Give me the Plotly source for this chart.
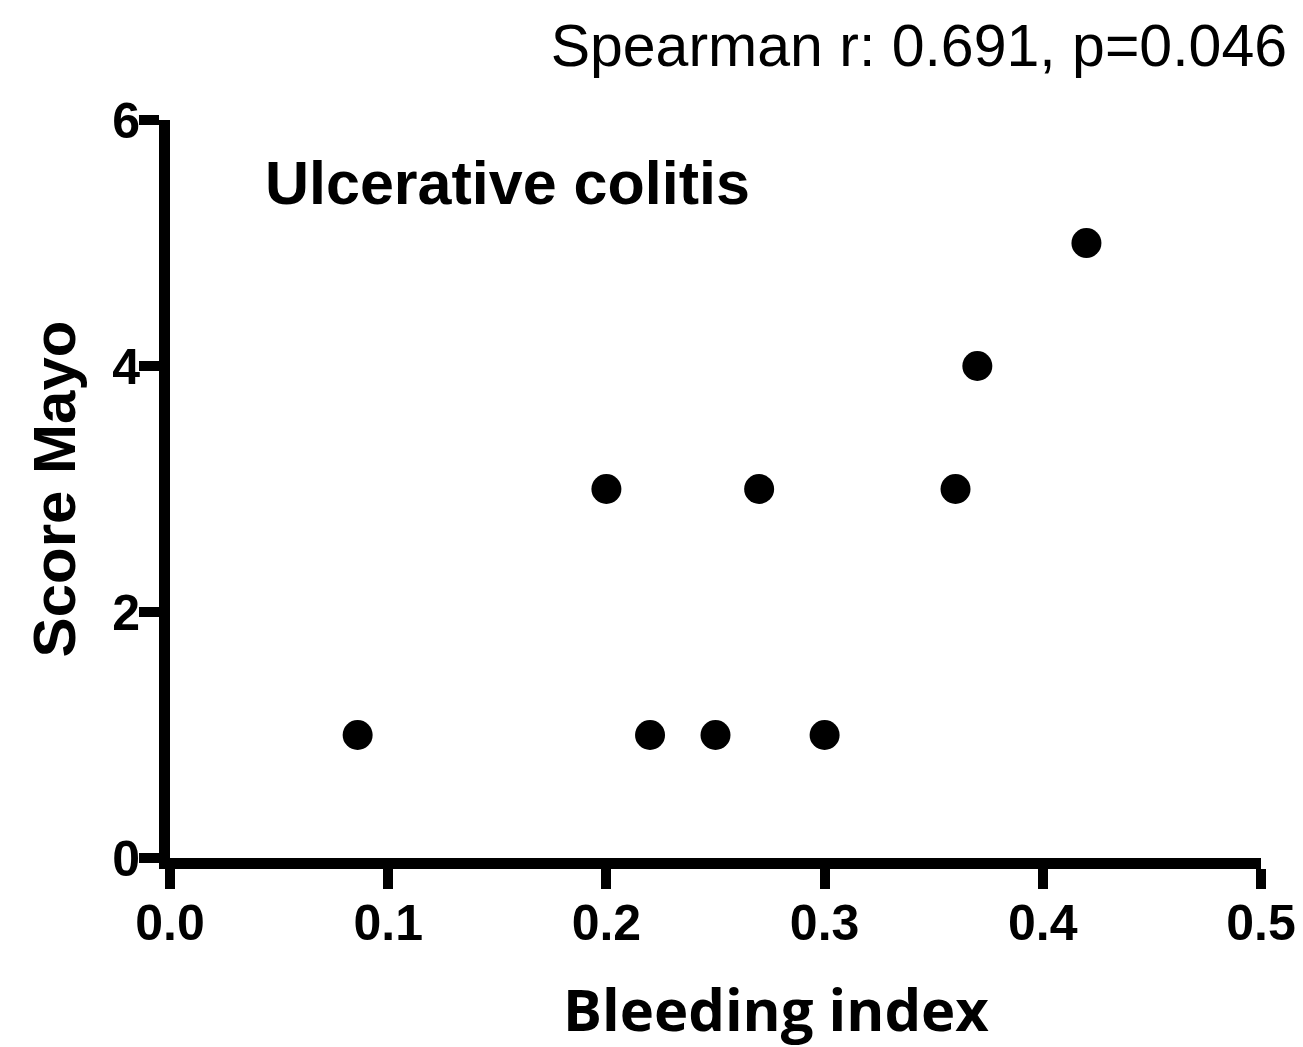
import plotly.graph_objects as go

# valores
bleeding_index = [0.086, 0.20, 0.22, 0.25, 0.27, 0.30, 0.36, 0.37, 0.42]
score_mayo = [1, 3, 1, 1, 3, 1, 3, 4, 5]

x_ticks = [0.0, 0.1, 0.2, 0.3, 0.4, 0.5]
y_ticks = [0, 2, 4, 6]

titulo = 'Spearman r: 0.691, p=0.046'
grupo = 'Ulcerative colitis'
titulo_x = 'Bleeding index'
titulo_y = 'Score Mayo'

fonte_arial = 'Liberation Sans, Arial, sans-serif'

fig = go.Figure()
fig.add_trace(go.Scatter(x=bleeding_index,
                         y=score_mayo,
                         mode='markers',
                         marker=dict(size=30, color='black'),
                         showlegend=False))

fig.add_annotation(x=0.0425, y=5.49, xref='x', yref='y',
                   text=grupo, showarrow=False,
                   xanchor='left', yanchor='middle',
                   font=dict(family=fonte_arial, size=61, color='black', weight='bold'))

# título do eixo x como anotação (no original não fica centrado no eixo)
fig.add_annotation(x=0.5555, y=-0.2033, xref='paper', yref='paper',
                   text=titulo_x, showarrow=False,
                   xanchor='center', yanchor='middle',
                   font=dict(family='Open Sans', size=58, color='black', weight='bold'))

eixo = dict(showline=True, linewidth=11, linecolor='black',
            ticks='outside', ticklen=20, tickwidth=10, tickcolor='black',
            showgrid=False, zeroline=False,
            tickfont=dict(family=fonte_arial, size=50, color='black', weight='bold'))

# a página tem margem de 8px no body, por isso as margens compensam
fig.update_layout(
    width=1303, height=1047,
    paper_bgcolor='white', plot_bgcolor='white',
    margin=dict(l=162, r=50, t=112, b=197, autoexpand=False),
    title=dict(text=titulo, x=0.9816, xanchor='right', xref='container',
               y=0.9647, yanchor='middle', yref='container',
               font=dict(family=fonte_arial, size=59, color='black')),
    xaxis=dict(range=[0, 0.5], tickvals=x_ticks,
               ticktext=[f'{v:.1f}' for v in x_ticks],
               ticklabelstandoff=-9,
               **eixo),
    yaxis=dict(range=[0, 6], tickvals=y_ticks,
               ticklabelstandoff=-11,
               title=dict(text=titulo_y, standoff=22,
                          font=dict(family=fonte_arial, size=60, color='black', weight='bold')),
               **eixo),
)

fig.write_html('out.html')
